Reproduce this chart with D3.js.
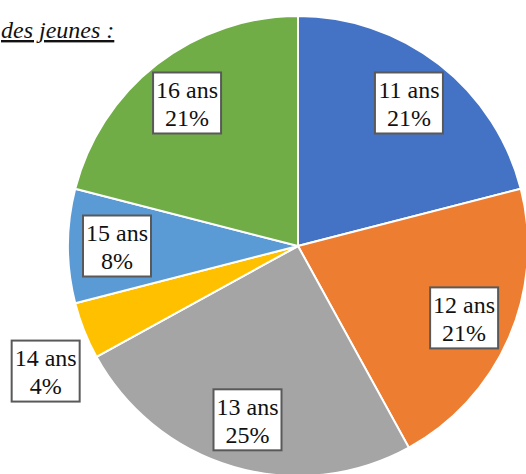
<!DOCTYPE html>
<html><head><meta charset="utf-8">
<script src="https://cdn.jsdelivr.net/npm/d3@7"></script>
<style>html,body{margin:0;padding:0;background:#fff;overflow:hidden}</style>
</head><body>
<svg id="c" width="526" height="474"></svg>
<script>
const categories = ["11 ans", "12 ans", "13 ans", "14 ans", "15 ans", "16 ans"];
const values = [21, 21, 25, 4, 8, 21];
const colors = ["#4472C4", "#ED7D31", "#A5A5A5", "#FFC000", "#5B9BD5", "#70AD47"];
const title = "des jeunes :";

const svg = d3.select("#c");
const cx = 298, cy = 246, R = 230;
const FONT = '"Liberation Serif"';

const data = categories.map((c, i) => ({ cat: c, value: values[i], color: colors[i] }));
const pie = d3.pie().sort(null).value(d => d.value);
const arcs = pie(data);
const arc = d3.arc().innerRadius(0).outerRadius(R);

const g = svg.append("g").attr("transform", `translate(${cx},${cy})`);
g.selectAll("path").data(arcs).enter().append("path")
  .attr("d", arc).attr("fill", d => d.data.color)
  .attr("stroke", "#fff").attr("stroke-width", 2);

const labelArc = d3.arc().innerRadius(181).outerRadius(181);
const outerArc = d3.arc().innerRadius(280).outerRadius(280);
const bw = 68, bh = 61;
const lab = g.selectAll("g.lab").data(arcs).enter().append("g").attr("class", "lab")
  .attr("transform", d => {
    let p = (d.data.value < 5 ? outerArc : labelArc).centroid(d);
    if (d.data.value < 5) p = [p[0] + 8, p[1] + 22];
    return `translate(${p[0]},${p[1]})`;
  });
lab.append("rect").attr("x", -bw / 2).attr("y", -bh / 2).attr("width", bw).attr("height", bh)
  .attr("fill", "#fff").attr("stroke", "#595959").attr("stroke-width", 2);
lab.append("text").attr("text-anchor", "middle").attr("y", -5)
  .style("font-family", FONT).style("font-size", "24px").attr("fill", "#111")
  .text(d => d.data.cat);
lab.append("text").attr("text-anchor", "middle").attr("y", 23)
  .style("font-family", FONT).style("font-size", "24px").attr("fill", "#111")
  .text(d => d.data.value + "%");

svg.append("text").attr("x", 1).attr("y", 38).attr("text-anchor", "start")
  .style("font-family", FONT).style("font-size", "24px").style("font-style", "italic")
  .style("text-decoration", "underline").attr("fill", "#111").text(title);
</script>
</body></html>
